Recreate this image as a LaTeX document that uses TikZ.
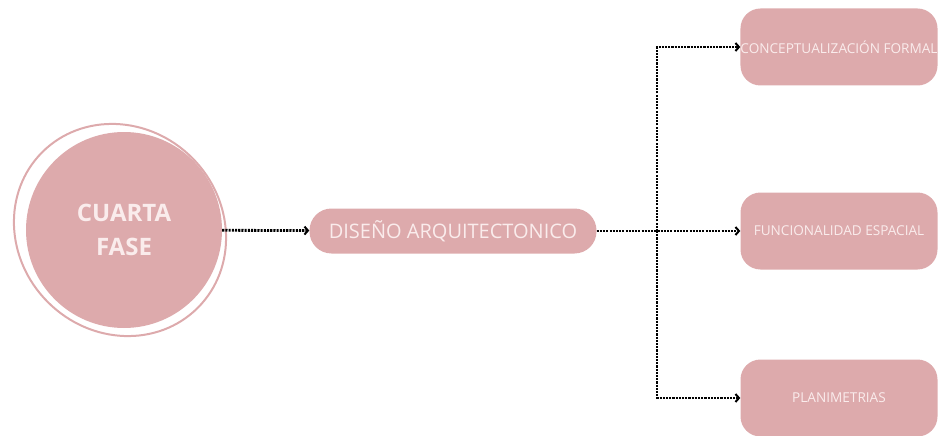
\documentclass[tikz,border=0pt]{standalone}
\usepackage{fontspec}
\setmainfont{Open Sans}
\usetikzlibrary{arrows.meta,positioning}
\definecolor{rosa}{RGB}{221,170,172}
\definecolor{blanco}{RGB}{250,236,236}
\begin{document}
\begin{tikzpicture}  % ------ Cuarta fase : diseno arquitectonico --------
      [x=1pt,y=-1pt,
       caja/.style={fill=rosa,text=blanco,rounded corners=20pt,inner sep=0pt,
                    minimum width=197pt,minimum height=77pt,font=\fontsize{13.6}{15}\selectfont},
       conector/.style={line width=2.8pt,dash pattern=on 2.1pt off 1.1pt,
                    -{Straight Barb[length=3.5pt,width=8pt,line width=2pt]}}]
    \useasboundingbox (0,0) rectangle (938,436);
    \draw[rosa,line width=2pt,rotate around={-45:(120,230)}] (120,230) ellipse [x radius=110,y radius=102];
    \node (fase) [circle,fill=rosa,minimum size=196pt,inner sep=0pt,text=blanco,align=center,
          font=\fontsize{24}{34}\bfseries\selectfont] at (124,230) {CUARTA\\FASE};
    \node (diseno) [fill=rosa,text=blanco,rounded corners=22pt,minimum width=287pt,minimum height=45pt,
          inner sep=0pt,font=\fontsize{20}{22}\selectfont] at (453,231) {DISEÑO ARQUITECTONICO};
    \node (concepto) [caja] at (839,47) {CONCEPTUALIZACIÓN FORMAL};
    \node (funcion) [caja] at (839,231) {FUNCIONALIDAD ESPACIAL};
    \node (plani) [caja] at (839,398) {PLANIMETRIAS};
    \coordinate (fork) at (657,231);
    \draw[conector] (fase) -- (diseno) ;
    \draw[conector] (diseno) -- (funcion) ;
    \draw[conector] (fork) |- (concepto) ;
    \draw[conector] (fork) |- (plani) ;
\end{tikzpicture}
\end{document}
